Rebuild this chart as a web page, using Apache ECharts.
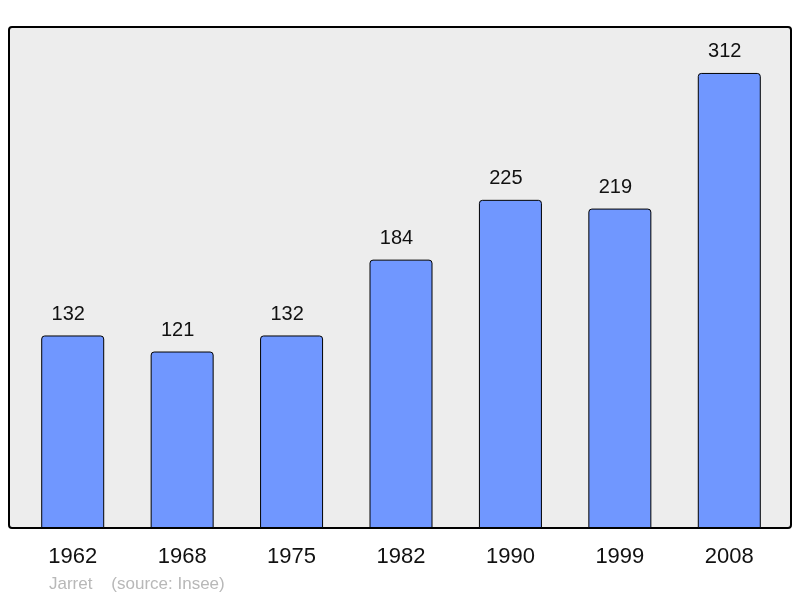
<!DOCTYPE html>
<html>
<head>
<meta charset="utf-8">
<script src="https://cdn.jsdelivr.net/npm/echarts@6/dist/echarts.min.js"></script>
<style>
  html, body { margin: 0; padding: 0; background: #fff; }
  #chart { width: 800px; height: 598px; }
</style>
</head>
<body>
<div id="chart"></div>
<script>
  var years = ['1962', '1968', '1975', '1982', '1990', '1999', '2008']
  var population = [132, 121, 132, 184, 225, 219, 312]

  var myChart = echarts.init(document.getElementById('chart'))
  var option = {
    animation: false,
    textStyle: { fontFamily: 'Liberation Sans, Arial, sans-serif' },
    // plot frame + footer
    graphic: [
      {
        type: 'rect',
        z: -10,
        shape: { x: 9, y: 27, width: 782, height: 501, r: 3 },
        style: { fill: '#ededed', stroke: '#000', lineWidth: 2 }
      },
      {
        type: 'text',
        left: 49,
        top: 576,
        style: {
          text: 'Jarret    (source: Insee)',
          fill: '#b8b8b8',
          font: '17px Liberation Sans, Arial, sans-serif'
        }
      }
    ],
    grid: {
      left: 18,
      right: 16,
      top: 27,
      bottom: 70
    },
    xAxis: {
      type: 'category',
      data: years,
      axisLine: { show: false },
      axisTick: { show: false },
      axisLabel: {
        color: '#111',
        fontSize: 22,
        margin: 18
      }
    },
    yAxis: {
      type: 'value',
      min: 0,
      max: 343.5,
      show: false,
      splitLine: { show: false }
    },
    series: [
      {
        type: 'bar',
        data: population,
        barWidth: 63,
        itemStyle: {
          color: '#7097ff',
          borderColor: '#000',
          borderWidth: 1,
          borderRadius: [3, 3, 0, 0]
        },
        label: {
          show: true,
          position: 'top',
          distance: 11,
          offset: [-4.5, 0],
          color: '#111',
          fontSize: 20
        }
      }
    ]
  }
  myChart.setOption(option)
</script>
</body>
</html>
